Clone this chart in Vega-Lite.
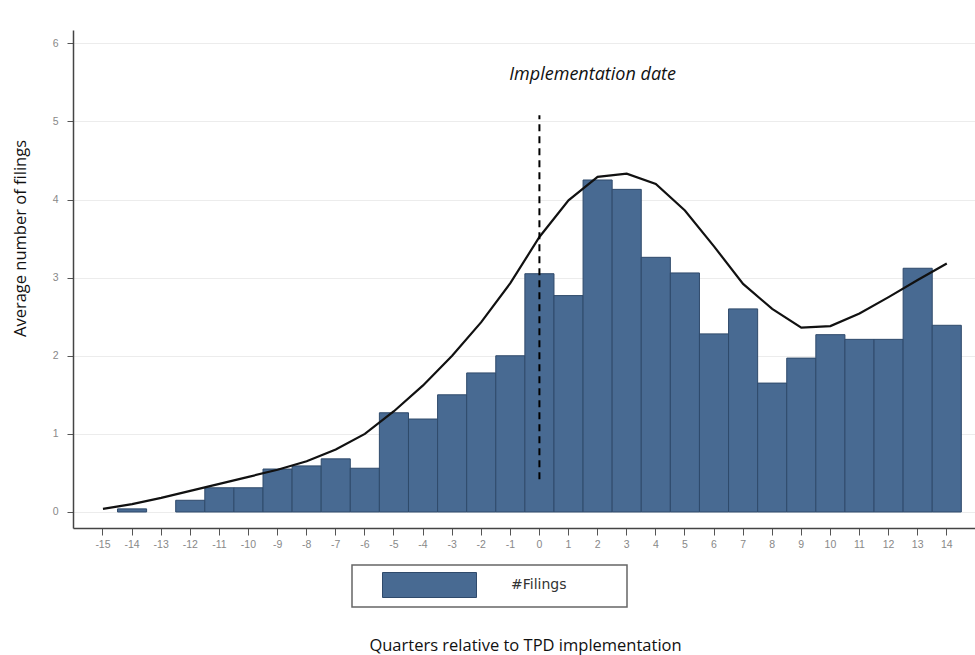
{
  "$schema": "https://vega.github.io/schema/vega-lite/v6.json",
  "width": 902,
  "height": 498,
  "autosize": {"type": "none"},
  "padding": {"left": 73, "top": 30, "right": 0, "bottom": 127},
  "background": "white",
  "config": {
    "view": {"stroke": null},
    "font": "Open Sans"
  },
  "datasets": {
    "main": [
      {"q": -15, "filings": null, "smooth": 0.04, "series": "#Filings"},
      {"q": -14, "filings": 0.04, "smooth": 0.1, "series": "#Filings"},
      {"q": -13, "filings": null, "smooth": 0.18, "series": "#Filings"},
      {"q": -12, "filings": 0.15, "smooth": 0.27, "series": "#Filings"},
      {"q": -11, "filings": 0.31, "smooth": 0.36, "series": "#Filings"},
      {"q": -10, "filings": 0.31, "smooth": 0.45, "series": "#Filings"},
      {"q": -9, "filings": 0.55, "smooth": 0.54, "series": "#Filings"},
      {"q": -8, "filings": 0.59, "smooth": 0.65, "series": "#Filings"},
      {"q": -7, "filings": 0.68, "smooth": 0.8, "series": "#Filings"},
      {"q": -6, "filings": 0.56, "smooth": 1.0, "series": "#Filings"},
      {"q": -5, "filings": 1.27, "smooth": 1.29, "series": "#Filings"},
      {"q": -4, "filings": 1.19, "smooth": 1.62, "series": "#Filings"},
      {"q": -3, "filings": 1.5, "smooth": 2.0, "series": "#Filings"},
      {"q": -2, "filings": 1.78, "smooth": 2.43, "series": "#Filings"},
      {"q": -1, "filings": 2.0, "smooth": 2.93, "series": "#Filings"},
      {"q": 0, "filings": 3.05, "smooth": 3.52, "series": "#Filings"},
      {"q": 1, "filings": 2.77, "smooth": 3.99, "series": "#Filings"},
      {"q": 2, "filings": 4.25, "smooth": 4.29, "series": "#Filings"},
      {"q": 3, "filings": 4.13, "smooth": 4.33, "series": "#Filings"},
      {"q": 4, "filings": 3.26, "smooth": 4.2, "series": "#Filings"},
      {"q": 5, "filings": 3.06, "smooth": 3.86, "series": "#Filings"},
      {"q": 6, "filings": 2.28, "smooth": 3.4, "series": "#Filings"},
      {"q": 7, "filings": 2.6, "smooth": 2.92, "series": "#Filings"},
      {"q": 8, "filings": 1.65, "smooth": 2.6, "series": "#Filings"},
      {"q": 9, "filings": 1.97, "smooth": 2.36, "series": "#Filings"},
      {"q": 10, "filings": 2.27, "smooth": 2.38, "series": "#Filings"},
      {"q": 11, "filings": 2.21, "smooth": 2.54, "series": "#Filings"},
      {"q": 12, "filings": 2.21, "smooth": 2.75, "series": "#Filings"},
      {"q": 13, "filings": 3.12, "smooth": 2.97, "series": "#Filings"},
      {"q": 14, "filings": 2.39, "smooth": 3.18, "series": "#Filings"}
    ],
    "event": [
      {"q": 0, "y1": 0.42, "y2": 5.08}
    ],
    "note": [
      {"q": 2, "ty": 5.6, "label": "Implementation date"}
    ]
  },
  "encoding": {
    "x": {
      "field": "q",
      "type": "ordinal",
      "sort": "ascending",
      "scale": {"type": "band", "paddingInner": 0, "paddingOuter": 0.5, "align": 0.53},
      "axis": {
        "title": "Quarters relative to TPD implementation",
        "titleFont": "Open Sans",
        "titleFontSize": 16.5,
        "titleFontWeight": "normal",
        "titleColor": "#111",
        "titlePadding": 88,
        "titleX": 452,
        "labelAngle": 0,
        "labelFont": "Liberation Sans",
        "labelFontSize": 10.5,
        "labelColor": "#888",
        "labelPadding": 4,
        "tickSize": 7,
        "tickColor": "#555",
        "domainColor": "#444",
        "domainWidth": 1.5,
        "grid": false
      }
    }
  },
  "layer": [
    {
      "data": {"name": "main"},
      "mark": {"type": "bar", "stroke": "#2f4a6b", "strokeWidth": 1, "opacity": 1},
      "encoding": {
        "y": {
          "field": "filings",
          "type": "quantitative",
          "scale": {"domain": [-0.205, 6.17], "nice": false, "zero": false},
          "axis": {
            "title": "Average number of filings",
            "titleFont": "Open Sans",
            "titleFontSize": 16.5,
            "titleFontWeight": "normal",
            "titleColor": "#111",
            "titlePadding": 24,
            "titleY": 208,
            "values": [0, 1, 2, 3, 4, 5, 6],
            "format": "d",
            "labelFont": "Liberation Sans",
            "labelFontSize": 10.5,
            "labelColor": "#888",
            "labelPadding": 9,
            "tickSize": 6,
            "tickColor": "#555",
            "domainColor": "#444",
            "domainWidth": 1.5,
            "grid": true,
            "gridColor": "#ececec",
            "gridWidth": 1
          }
        },
        "y2": {"datum": 0},
        "color": {
          "field": "series",
          "type": "nominal",
          "scale": {"range": ["#486a92"]},
          "legend": {
            "title": null,
            "orient": "none",
            "legendX": 279,
            "legendY": 535,
            "padding": 7,
            "strokeColor": "#666",
            "symbolType": "M-3.76,-1H3.76V1H-3.76Z M15.04,0",
            "symbolSize": 625,
            "symbolOffset": 57.5,
            "symbolStrokeColor": "#2f4a6b",
            "symbolStrokeWidth": 1,
            "symbolOpacity": 1,
            "labelOffset": 68.5,
            "labelFont": "DejaVu Sans",
            "labelFontSize": 14,
            "labelColor": "#333",
            "encode": {
              "legend": {"update": {"strokeWidth": {"value": 1.5}}}
            }
          }
        }
      }
    },
    {
      "data": {"name": "main"},
      "mark": {"type": "line", "color": "#111", "strokeWidth": 2.2, "interpolate": "linear"},
      "encoding": {
        "y": {"field": "smooth", "type": "quantitative"}
      }
    },
    {
      "data": {"name": "event"},
      "mark": {"type": "rule", "color": "#000", "strokeWidth": 2, "strokeDash": [7, 5]},
      "encoding": {
        "y": {"field": "y1", "type": "quantitative"},
        "y2": {"field": "y2"}
      }
    },
    {
      "data": {"name": "note"},
      "mark": {"type": "text", "font": "Open Sans", "fontStyle": "italic", "fontSize": 18, "color": "#111", "align": "center", "baseline": "middle", "dx": -5},
      "encoding": {
        "y": {"field": "ty", "type": "quantitative"},
        "text": {"field": "label"}
      }
    }
  ]
}
